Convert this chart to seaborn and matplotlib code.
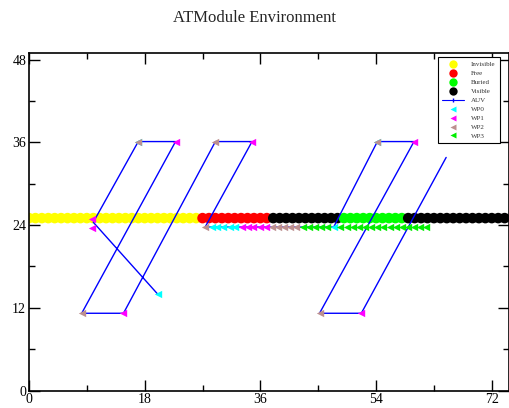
import numpy as np
import pandas as pd
import matplotlib
matplotlib.use("Agg")
import matplotlib.pyplot as plt
from matplotlib.lines import Line2D
import seaborn as sns

sns.set_style("ticks")
plt.rcParams['font.family'] = ['Liberation Serif', 'DejaVu Serif']

# ---- data ----
cell_x = list(range(0, 75))
cell_state = (["Invisible"] * 27 + ["Free"] * 11 + ["Visible"] * 11 +
              ["Buried"] * 10 + ["Visible"] * 16)
cell_y = 25.0

auv_x = [20, 10, 17, 22.8, 8.2, 14.7, 29, 34.7, 27.4, 47.4, 54.2, 59.9, 45.2, 51.7, 64.9]
auv_y = [14, 24.4, 36.1, 36.1, 11.2, 11.2, 36.1, 36.1, 23.7, 23.7, 36.1, 36.1, 11.2, 11.2, 33.8]

wp0_x = [20, 17, 54.2, 28.4, 29.3, 30.2, 31.2, 32.1, 47.4]
wp0_y = [14, 36.1, 36.1, 23.7, 23.7, 23.7, 23.7, 23.7, 23.7]
wp1_x = [9.8, 9.8, 22.8, 14.7, 34.7, 59.9, 51.7, 33.1, 34.0, 34.9, 35.9, 36.8]
wp1_y = [24.9, 23.6, 36.1, 11.2, 36.1, 36.1, 11.2, 23.7, 23.7, 23.7, 23.7, 23.7]
wp2_x = [17, 8.2, 29, 27.4, 54.2, 45.2, 37.8, 38.7, 39.6, 40.6, 41.5]
wp2_y = [36.1, 11.2, 36.1, 23.7, 36.1, 11.2, 23.7, 23.7, 23.7, 23.7, 23.7]
wp3_x = [42.7, 43.6, 44.5, 45.4, 46.3, 48.4, 49.4, 50.4, 51.3, 52.3, 53.2,
         54.1, 55.1, 56.1, 57.1, 58.0, 59.0, 59.9, 60.8, 61.8]
wp3_y = [23.7] * len(wp3_x)

x_ticks = [0, 18, 36, 54, 72]
y_ticks = [0, 12, 24, 36, 48]

state_colors = {"Invisible": "#ffff00", "Free": "#ff0000",
                "Buried": "#00ff00", "Visible": "#000000"}
wp_colors = {"WP0": "#00ffff", "WP1": "#ff00ff", "WP2": "#bc8f8f", "WP3": "#00ee00"}

# ---- figure ----
fig = plt.figure(figsize=(5.09, 4.08), dpi=100)
W, H = 509, 408
ax = fig.add_axes([29 / W, 1 - 390.5 / H, 479.5 / W, 337.2 / H])

cells = pd.DataFrame({"x": cell_x, "y": cell_y, "state": cell_state})
sns.scatterplot(data=cells, x="x", y="y", hue="state", palette=state_colors,
                s=58, linewidth=0, legend=False, ax=ax, zorder=2)

auv = pd.DataFrame({"x": auv_x, "y": auv_y})
sns.lineplot(data=auv, x="x", y="y", sort=False, estimator=None, color="#0000ff",
             lw=1.0, ax=ax, zorder=3)

for k, (name, xs, ys) in enumerate([("WP0", wp0_x, wp0_y), ("WP1", wp1_x, wp1_y),
                                    ("WP2", wp2_x, wp2_y), ("WP3", wp3_x, wp3_y)]):
    d = pd.DataFrame({"x": xs, "y": ys})
    sns.scatterplot(data=d, x="x", y="y", color=wp_colors[name], marker="<",
                    s=28, linewidth=0, legend=False, ax=ax, zorder=4 + k)

ax.set_xlim(0, 74.6)
ax.set_ylim(0, 48.9)
ax.set_xticks(x_ticks)
ax.set_yticks(y_ticks)
ax.set_xticks([9, 27, 45, 63], minor=True)
ax.set_yticks([6, 18, 30, 42], minor=True)
ax.set_xlabel("")
ax.set_ylabel("")
ax.tick_params(which="both", direction="in", top=True, right=True,
               labelsize=10, colors="black", width=1.0)
ax.tick_params(which="major", length=8, pad=2)
ax.tick_params(which="minor", length=4)
for sp in ax.spines.values():
    sp.set_visible(True)
    sp.set_linewidth(1.2)
    sp.set_color("black")

fig.text(0.5, 1 - 18 / H, "ATModule Environment", ha="center", va="center", fontsize=12)

handles = [
    Line2D([], [], ls="", marker="o", ms=6, mfc=state_colors["Invisible"], mec="none"),
    Line2D([], [], ls="", marker="o", ms=6, mfc=state_colors["Free"], mec="none"),
    Line2D([], [], ls="", marker="o", ms=6, mfc=state_colors["Buried"], mec="none"),
    Line2D([], [], ls="", marker="o", ms=6, mfc=state_colors["Visible"], mec="none"),
    Line2D([], [], color="#0000ff", lw=0.8, marker="|", ms=3),
    Line2D([], [], ls="", marker="<", ms=4, mfc=wp_colors["WP0"], mec="none"),
    Line2D([], [], ls="", marker="<", ms=4, mfc=wp_colors["WP1"], mec="none"),
    Line2D([], [], ls="", marker="<", ms=4, mfc=wp_colors["WP2"], mec="none"),
    Line2D([], [], ls="", marker="<", ms=4, mfc=wp_colors["WP3"], mec="none"),
]
labels = ["Invisible", "Free", "Buried", "Visible", "AUV", "WP0", "WP1", "WP2", "WP3"]
leg = ax.legend(handles, labels, loc="upper right", bbox_to_anchor=(0.982, 0.989),
                fontsize=5, frameon=True, fancybox=False, edgecolor="black",
                framealpha=1, labelspacing=0.45, handlelength=3.2, handletextpad=1.0,
                borderpad=0.6, borderaxespad=0)
leg.get_frame().set_linewidth(0.8)
for t in leg.get_texts():
    t.set_color("#333333")

fig.savefig("out.png", dpi=100)
